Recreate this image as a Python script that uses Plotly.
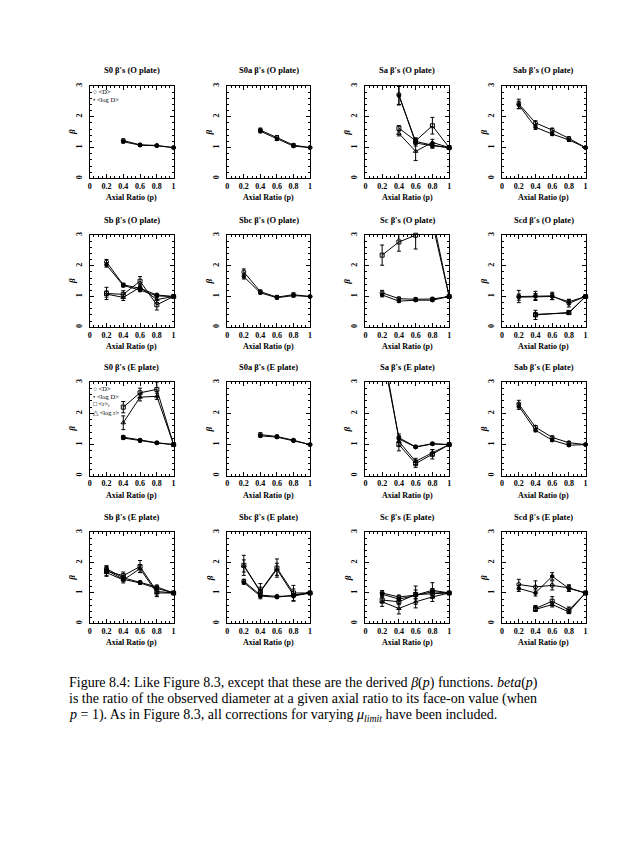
import plotly.graph_objects as go

W, H = 631, 856

P5 = [0.2, 0.4, 0.6, 0.8, 1.0]
P4 = [0.4, 0.6, 0.8, 1.0]

xtick_vals = [0, 0.2, 0.4, 0.6, 0.8, 1.0]
xtick_text = ["0", "0.2", "0.4", "0.6", "0.8", "1"]
ytick_vals = [0, 1, 2, 3]
ytick_text = ["0", "1", "2", "3"]

titles = [
    "S0 β's (O plate)", "S0a β's (O plate)", "Sa β's (O plate)", "Sab β's (O plate)",
    "Sb β's (O plate)", "Sbc β's (O plate)", "Sc β's (O plate)", "Scd β's (O plate)",
    "S0 β's (E plate)", "S0a β's (E plate)", "Sa β's (E plate)", "Sab β's (E plate)",
    "Sb β's (E plate)", "Sbc β's (E plate)", "Sc β's (E plate)", "Scd β's (E plate)",
]

# ---- O plate ----
s0_o = {"p": P4,
        "D": [1.23, 1.09, 1.07, 1.0], "D_err": [0.05, 0.03, 0.03, 0],
        "logD": [1.19, 1.08, 1.06, 1.0], "logD_err": [0.04, 0.03, 0.03, 0]}
s0a_o = {"p": P4,
         "D": [1.57, 1.33, 1.08, 1.0], "D_err": [0.06, 0.06, 0.05, 0],
         "logD": [1.53, 1.28, 1.05, 1.0], "logD_err": [0.05, 0.05, 0.04, 0]}
sa_o = {"p": P4,
        "D": [2.72, 1.15, 1.06, 1.0], "D_err": [0.32, 0.1, 0.08, 0],
        "logD": [2.68, 1.2, 1.08, 1.0], "logD_err": [0.3, 0.08, 0.07, 0],
        "r": [1.63, 1.22, 1.71, 1.0], "r_err": [0.08, 0.1, 0.27, 0],
        "logr": [1.46, 0.88, 1.17, 1.0], "logr_err": [0.08, 0.3, 0.1, 0]}
sab_o = {"p": P5,
         "D": [2.42, 1.8, 1.57, 1.3, 1.0], "D_err": [0.15, 0.07, 0.06, 0.05, 0],
         "logD": [2.38, 1.66, 1.44, 1.25, 1.0], "logD_err": [0.12, 0.07, 0.05, 0.05, 0]}
sb_o = {"p": P5,
        "D": [2.13, 1.38, 1.27, 1.05, 1.0], "D_err": [0.08, 0.05, 0.05, 0.04, 0],
        "logD": [2.03, 1.36, 1.21, 1.02, 1.0], "logD_err": [0.07, 0.05, 0.05, 0.04, 0],
        "r": [1.1, 1.07, 1.5, 0.73, 1.0], "r_err": [0.2, 0.12, 0.15, 0.17, 0],
        "logr": [1.08, 0.97, 1.3, 0.9, 1.0], "logr_err": [0.1, 0.1, 0.1, 0.1, 0]}
sbc_o = {"p": P5,
         "D": [1.8, 1.16, 0.98, 1.06, 1.0], "D_err": [0.1, 0.05, 0.05, 0.06, 0],
         "logD": [1.65, 1.12, 0.96, 1.03, 1.0], "logD_err": [0.08, 0.04, 0.04, 0.05, 0]}
sc_o = {"p": P5,
        "D": [1.12, 0.93, 0.91, 0.92, 1.0], "D_err": [0.08, 0.05, 0.05, 0.05, 0],
        "logD": [1.05, 0.85, 0.88, 0.88, 1.0], "logD_err": [0.06, 0.04, 0.04, 0.04, 0],
        "r": [2.35, 2.78, 3.0, 3.6, 1.0], "r_err": [0.33, 0.3, 0.45, 0.4, 0],
        "logr": [3.5, 3.6, 3.8, 3.4, 1.0], "logr_err": [0.3, 0.3, 0.3, 0.3, 0]}
scd_o = {"p": P5,
         "D": [1.0, 1.02, 1.02, 0.78, 1.0], "D_err": [0.2, 0.15, 0.12, 0.12, 0],
         "logD": [0.98, 1.0, 1.0, 0.83, 1.0], "logD_err": [0.1, 0.1, 0.1, 0.08, 0],
         "p_r": [0.4, 0.8, 1.0],
         "r": [0.4, 0.48, 1.0], "r_err": [0.15, 0.06, 0],
         "logr": [0.42, 0.46, 1.0], "logr_err": [0.06, 0.05, 0]}

# ---- E plate ----
s0_e = {"p": P4,
        "D": [1.24, 1.14, 1.06, 1.0], "D_err": [0.05, 0.04, 0.03, 0],
        "logD": [1.21, 1.12, 1.05, 1.0], "logD_err": [0.04, 0.03, 0.03, 0],
        "r": [2.2, 2.66, 2.77, 1.0], "r_err": [0.18, 0.15, 0.23, 0],
        "logr": [1.7, 2.52, 2.55, 1.0], "logr_err": [0.22, 0.12, 0.1, 0]}
s0a_e = {"p": P4,
         "D": [1.32, 1.26, 1.14, 1.0], "D_err": [0.06, 0.04, 0.04, 0],
         "logD": [1.28, 1.24, 1.12, 1.0], "logD_err": [0.05, 0.04, 0.03, 0]}
sa_e = {"p": P5,
        "D": [4.0, 1.22, 0.93, 1.03, 1.0], "D_err": [0.5, 0.12, 0.03, 0.03, 0],
        "logD": [4.2, 1.18, 0.92, 1.02, 1.0], "logD_err": [0.5, 0.1, 0.03, 0.03, 0],
        "p_r": P4,
        "r": [1.0, 0.39, 0.69, 1.0], "r_err": [0.2, 0.12, 0.15, 0],
        "logr": [1.1, 0.46, 0.74, 1.0], "logr_err": [0.15, 0.1, 0.1, 0]}
sab_e = {"p": P5,
         "D": [2.3, 1.56, 1.23, 1.06, 1.0], "D_err": [0.12, 0.05, 0.04, 0.04, 0],
         "logD": [2.23, 1.46, 1.14, 0.98, 1.0], "logD_err": [0.1, 0.05, 0.04, 0.04, 0]}
sb_e = {"p": P5,
        "D": [1.8, 1.5, 1.35, 1.2, 1.0], "D_err": [0.1, 0.08, 0.04, 0.06, 0],
        "logD": [1.75, 1.45, 1.33, 1.15, 1.0], "logD_err": [0.08, 0.06, 0.04, 0.05, 0],
        "r": [1.72, 1.57, 1.87, 1.05, 1.0], "r_err": [0.15, 0.12, 0.2, 0.15, 0],
        "logr": [1.67, 1.43, 1.8, 1.0, 1.0], "logr_err": [0.12, 0.1, 0.12, 0.12, 0]}
sbc_e = {"p": P5,
         "D": [1.39, 0.93, 0.89, 0.9, 1.0], "D_err": [0.06, 0.05, 0.03, 0.03, 0],
         "logD": [1.34, 0.9, 0.86, 0.93, 1.0], "logD_err": [0.05, 0.04, 0.03, 0.03, 0],
         "r": [1.91, 1.06, 1.82, 1.0, 1.0], "r_err": [0.33, 0.25, 0.3, 0.25, 0],
         "logr": [1.89, 1.04, 1.78, 0.93, 1.0], "logr_err": [0.2, 0.15, 0.2, 0.2, 0]}
sc_e = {"p": P5,
        "D": [1.0, 0.87, 0.93, 1.09, 1.0], "D_err": [0.08, 0.06, 0.3, 0.25, 0],
        "logD": [0.96, 0.8, 0.92, 1.04, 1.0], "logD_err": [0.06, 0.05, 0.1, 0.1, 0],
        "r": [0.77, 0.71, 0.95, 0.98, 1.0], "r_err": [0.1, 0.1, 0.15, 0.15, 0],
        "logr": [0.71, 0.49, 0.71, 0.87, 1.0], "logr_err": [0.15, 0.18, 0.2, 0.15, 0]}
scd_e = {"p": P5,
         "D": [1.28, 1.2, 1.25, 1.17, 1.0], "D_err": [0.17, 0.2, 0.15, 0.1, 0],
         "logD": [1.15, 1.0, 1.55, 1.15, 1.0], "logD_err": [0.1, 0.1, 0.12, 0.1, 0],
         "p_r": P4,
         "r": [0.49, 0.73, 0.44, 1.0], "r_err": [0.1, 0.15, 0.1, 0],
         "logr": [0.46, 0.62, 0.38, 1.0], "logr_err": [0.06, 0.08, 0.06, 0]}

panels = [s0_o, s0a_o, sa_o, sab_o, sb_o, sbc_o, sc_o, scd_o,
          s0_e, s0a_e, sa_e, sab_e, sb_e, sbc_e, sc_e, scd_e]

legend_o = ["○ &lt;D&gt;", "• &lt;log D&gt;"]
legend_e = ["○ &lt;D&gt;", "• &lt;log D&gt;", "□ &lt;r&gt;<sub>f</sub>", "△ &lt;log r&gt;"]

caption_lines = [
    "Figure 8.4: Like Figure 8.3, except that these are the derived <i>β</i>(<i>p</i>) functions. <i>beta</i>(<i>p</i>)",
    "is the ratio of the observed diameter at a given axial ratio to its face-on value (when",
    "<i>p</i> = 1). As in Figure 8.3, all corrections for varying <i>μ<sub>limit</sub></i> have been included.",
]

# ---- styling / layout ----
FONT = "Liberation Serif"
symbols = {"D": "circle-open", "logD": "circle", "r": "square-open", "logr": "triangle-up-open"}
sizes = {"D": 4, "logD": 3.5, "r": 4, "logr": 4}

col_left = [88.3, 226.7, 365.7, 503.3]
col_right = [172.7, 310.0, 450.0, 587.3]
row_top = [83.3, 233.3, 381.0, 531.7]
row_bot = [176.3, 325.7, 475.0, 623.3]

fig = go.Figure()
annotations = []


def px_x(v):
    return v / W


def px_y(v):
    return 1 - v / H


def note(text, x, y, size, xanchor="center", angle=0, weight="normal"):
    annotations.append(dict(text=text, x=px_x(x), y=px_y(y), xref="paper", yref="paper",
                            xanchor=xanchor, yanchor="middle", showarrow=False,
                            textangle=angle,
                            font=dict(family=FONT, size=size, color="black", weight=weight)))


for i, d in enumerate(panels):
    r, c = divmod(i, 4)
    xa = "x" if i == 0 else f"x{i+1}"
    ya = "y" if i == 0 else f"y{i+1}"
    for kind in ["D", "logD", "r", "logr"]:
        if kind not in d:
            continue
        px = d["p_r"] if (kind in ("r", "logr") and "p_r" in d) else d["p"]
        yv = d[kind]
        ev = d[kind + "_err"]
        fig.add_trace(go.Scatter(
            x=px, y=yv, mode="lines", xaxis=xa, yaxis=ya, showlegend=False,
            line=dict(color="black", width=1),
            error_y=dict(type="data", array=ev, color="black", thickness=1, width=2),
            hoverinfo="skip"))
        inx = [p for p, v in zip(px, yv) if v <= 3.05]
        iny = [v for v in yv if v <= 3.05]
        fig.add_trace(go.Scatter(
            x=inx, y=iny, mode="markers", xaxis=xa, yaxis=ya, showlegend=False,
            cliponaxis=False,
            marker=dict(symbol=symbols[kind], size=sizes[kind], color="black",
                        line=dict(color="black", width=1))))
    axkw = dict(showline=True, linecolor="black", linewidth=1, mirror="ticks",
                ticks="inside", ticklen=4, tickcolor="black", tickwidth=1,
                showgrid=False, zeroline=False,
                tickfont=dict(family=FONT, size=8, color="black", weight="bold"))
    fig.layout["xaxis" if i == 0 else f"xaxis{i+1}"] = dict(
        domain=[px_x(col_left[c]), px_x(col_right[c])], range=[0, 1], anchor=ya,
        tickvals=xtick_vals, ticktext=xtick_text,
        minor=dict(ticks="inside", ticklen=2, dtick=0.05, tickcolor="black"),
        **axkw)
    fig.layout["yaxis" if i == 0 else f"yaxis{i+1}"] = dict(
        domain=[px_y(row_bot[r]), px_y(row_top[r])], range=[0, 3], anchor=xa,
        tickvals=ytick_vals, ticktext=ytick_text, tickangle=-90, ticklabelstandoff=4,
        minor=dict(ticks="inside", ticklen=2, dtick=0.2, tickcolor="black"),
        **axkw)
    cx = (col_left[c] + col_right[c]) / 2
    note(titles[i], cx, row_top[r] - 15.5, 8.5, weight="bold")
    note("Axial Ratio (p)", cx, row_bot[r] + 19.5, 8, weight="bold")
    note("<i>β</i>", col_left[c] - 18, (row_top[r] + row_bot[r]) / 2, 9, angle=-90, weight="bold")

for lines, r in ((legend_o, 0), (legend_e, 2)):
    for k, t in enumerate(lines):
        note(t, col_left[0] + 1, row_top[r] + 6 + 8 * k, 6.5, xanchor="left")

for k, t in enumerate(caption_lines):
    note(t, 65, 683 + 16.5 * k, 14, xanchor="left")

fig.update_layout(width=W, height=H, margin=dict(l=0, r=0, t=0, b=0),
                  paper_bgcolor="white", plot_bgcolor="white",
                  annotations=annotations, showlegend=False)

fig.write_html("out.html", config={"displayModeBar": False},
               post_script="document.body.style.margin='0';document.body.style.overflow='hidden';")
